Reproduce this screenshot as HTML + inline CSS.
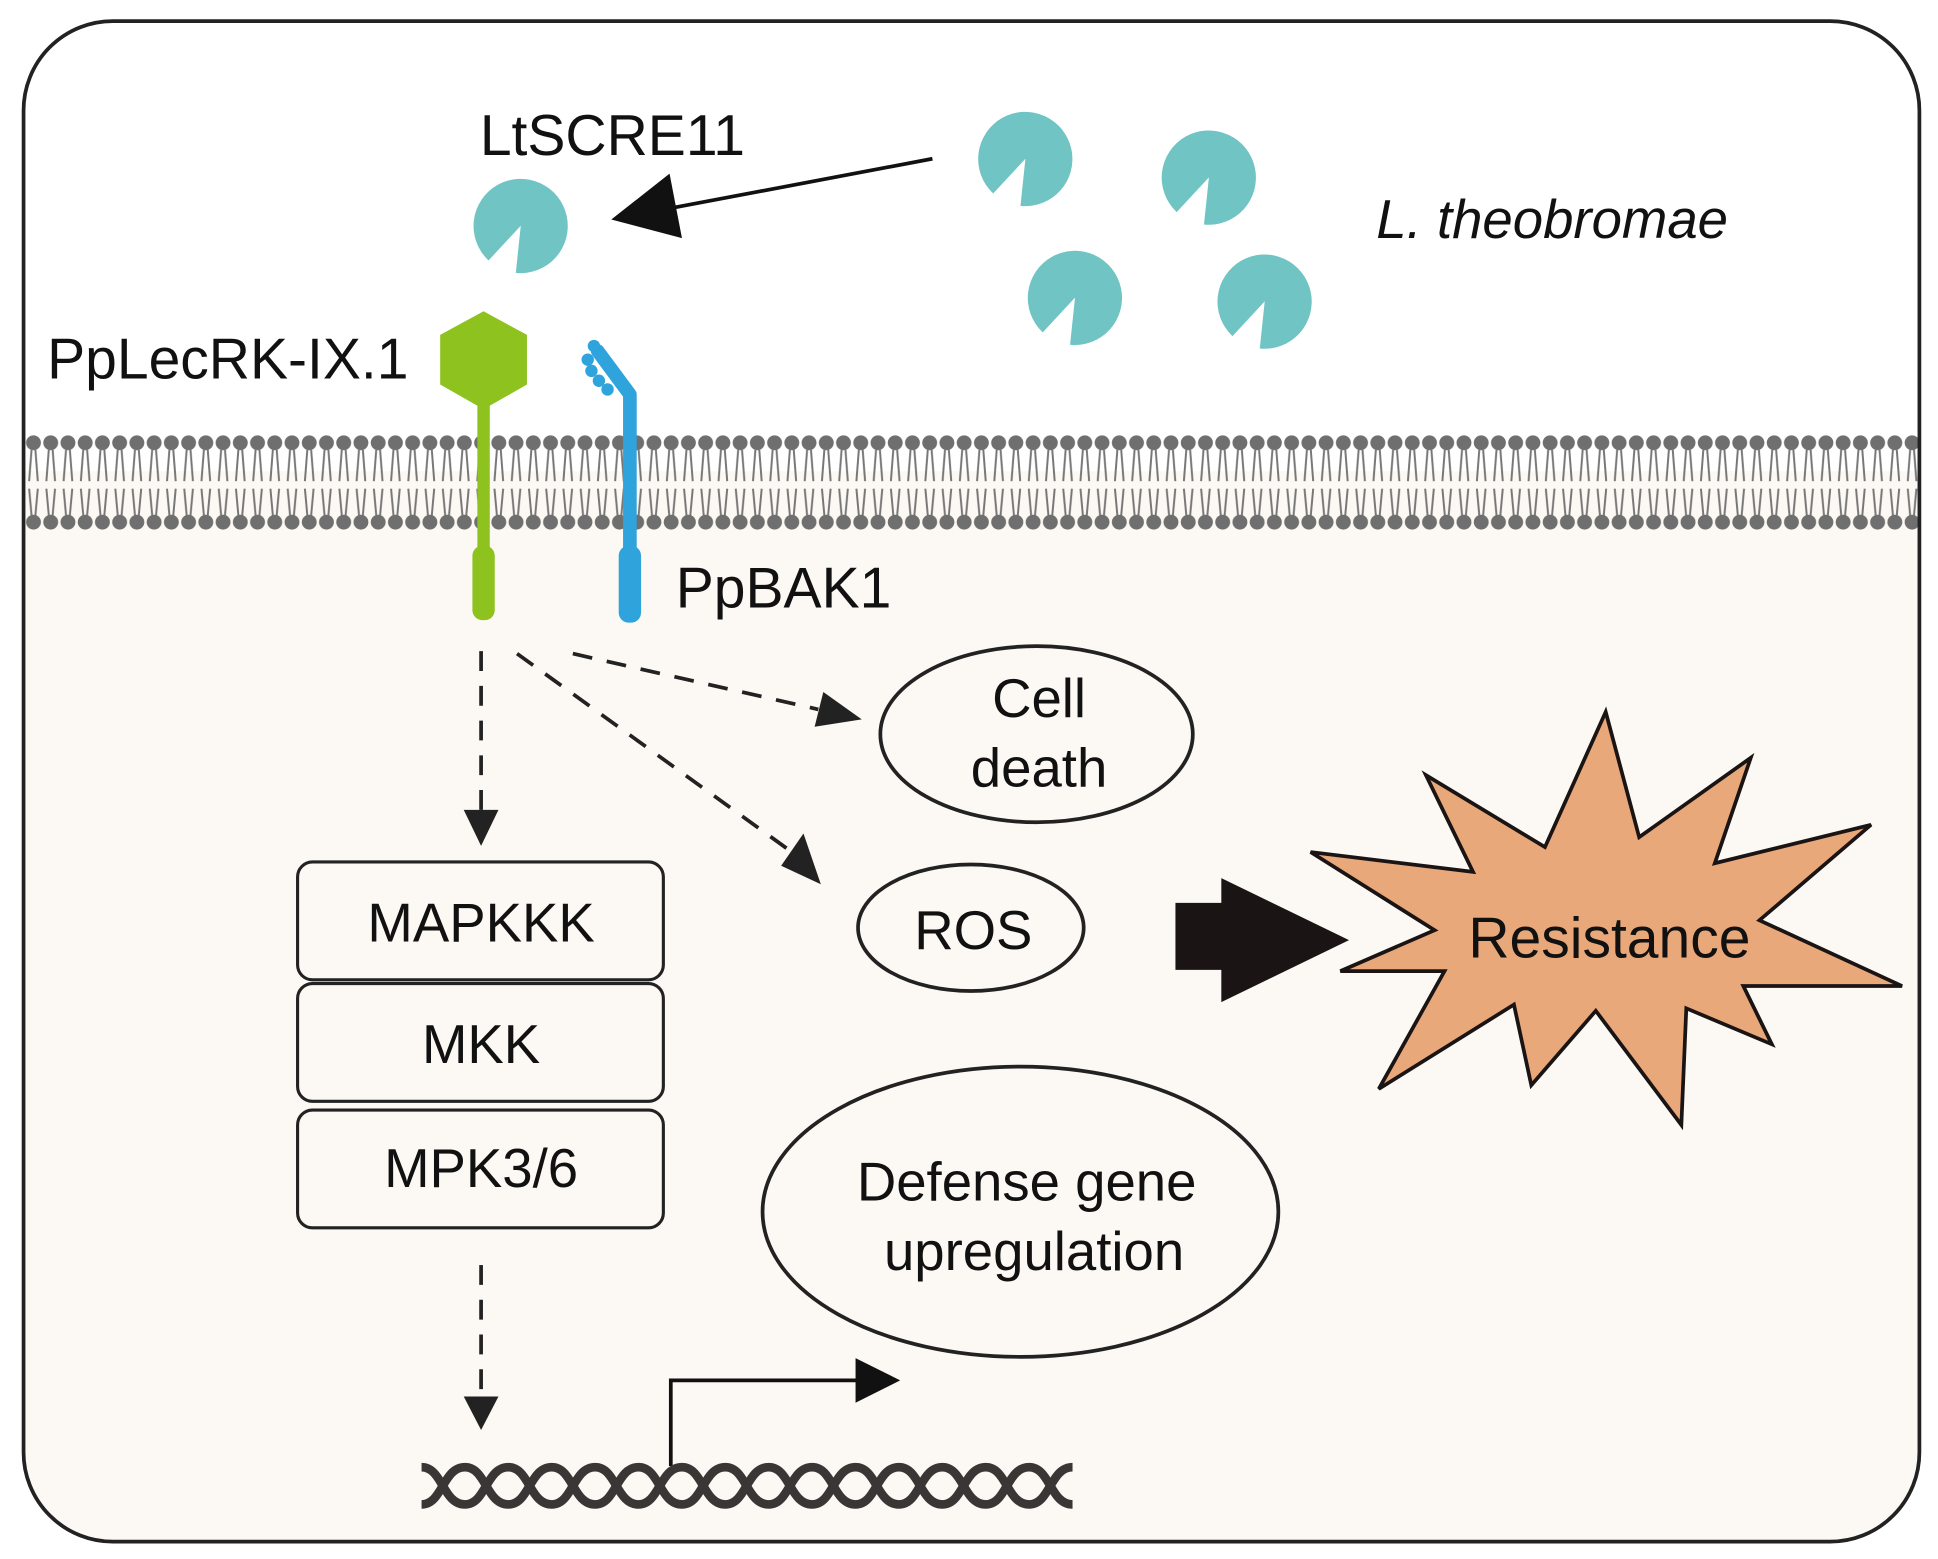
<!DOCTYPE html>
<html><head><meta charset="utf-8"><style>
html,body{margin:0;padding:0;background:#fff;}
svg{display:block;}
text{font-family:"Liberation Sans",Arial,sans-serif;fill:#111;}
</style></head><body>
<svg width="1938" height="1559" viewBox="0 0 1563 1257" preserveAspectRatio="none" xmlns="http://www.w3.org/2000/svg">
<defs>
<clipPath id="cell"><rect x="19" y="17" width="1529" height="1226" rx="72"/></clipPath>
<pattern id="mem" x="20" y="0" width="13.9" height="1257" patternUnits="userSpaceOnUse">
<circle cx="7" cy="357" r="6" fill="#6f6f6f"/>
<path d="M5.5 362 L3.5 388 M8.5 362 L10.5 388" stroke="#777" stroke-width="1.6" fill="none"/>
<path d="M3.5 394 L5.5 416 M10.5 394 L8.5 416" stroke="#777" stroke-width="1.6" fill="none"/>
<circle cx="7" cy="421" r="6" fill="#6f6f6f"/>
</pattern>
<g id="pac"><path d="M0 0 L-4 38 A38 38 0 1 0 -26 28 Z" fill="#70c4c4"/></g>
</defs>
<g clip-path="url(#cell)">
<rect x="0" y="0" width="1563" height="1257" fill="#fff"/>
<rect x="0" y="380" width="1563" height="900" fill="#fcf8f3"/>
<rect x="14" y="348" width="1540" height="82" fill="url(#mem)"/>
</g>
<rect x="19" y="17" width="1529" height="1226" rx="72" fill="none" stroke="#222" stroke-width="3"/>

<!-- effectors -->
<use href="#pac" x="420" y="182"/>
<use href="#pac" x="827" y="128"/>
<use href="#pac" x="975" y="143"/>
<use href="#pac" x="867" y="240"/>
<use href="#pac" x="1020" y="243"/>
<line x1="752" y1="128" x2="535" y2="169" stroke="#111" stroke-width="3"/>
<polygon points="493,177 540,140 550,192" fill="#111"/>

<text x="387" y="125" font-size="46">LtSCRE11</text>
<text x="1110" y="192" font-size="44" font-style="italic">L. theobromae</text>
<text x="38" y="305" font-size="46">PpLecRK-IX.1</text>
<text x="545" y="490" font-size="46">PpBAK1</text>

<!-- receptors -->
<polygon points="390,251 425,270 425,310 390,330 355,310 355,270" fill="#8dc21f"/>
<rect x="385" y="325" width="10" height="120" fill="#8dc21f"/>
<rect x="381" y="440" width="18" height="60" rx="8" fill="#8dc21f"/>
<path d="M508 445 L508 318 L482 283" stroke="#2ea3dc" stroke-width="11" fill="none" stroke-linecap="round" stroke-linejoin="round"/>
<g fill="#2ea3dc"><circle cx="474" cy="290" r="5"/><circle cx="477" cy="299" r="5"/><circle cx="483" cy="307" r="5"/><circle cx="490" cy="314" r="5"/><circle cx="479" cy="279" r="5"/></g>
<rect x="499" y="440" width="18" height="62" rx="8" fill="#2ea3dc"/>

<!-- dashed arrows -->
<g stroke="#222" stroke-width="3" stroke-dasharray="16,12" fill="none">
<line x1="388" y1="525" x2="388" y2="655"/>
<line x1="417" y1="527" x2="640" y2="688"/>
<line x1="462" y1="527" x2="660" y2="572"/>
<line x1="388" y1="1020" x2="388" y2="1125"/>
</g>
<polygon points="374,653 402,653 388,682" fill="#222"/>
<polygon points="630,698 648,672 662,713" fill="#222"/>
<polygon points="657,586 664,558 695,580" fill="#222"/>
<polygon points="374,1126 402,1126 388,1153" fill="#222"/>

<!-- ellipses -->
<g fill="none" stroke="#222" stroke-width="3">
<ellipse cx="836" cy="592" rx="126" ry="71"/>
<ellipse cx="783" cy="748" rx="91" ry="51"/>
<ellipse cx="823" cy="977" rx="208" ry="117"/>
</g>
<text x="838" y="578" font-size="44" text-anchor="middle">Cell</text>
<text x="838" y="634" font-size="44" text-anchor="middle">death</text>
<text x="785" y="765" font-size="44" text-anchor="middle">ROS</text>
<text x="828" y="968" font-size="44" text-anchor="middle">Defense gene</text>
<text x="834" y="1024" font-size="44" text-anchor="middle">upregulation</text>

<!-- MAPK boxes -->
<g fill="none" stroke="#222" stroke-width="2.5">
<rect x="240" y="695" width="295" height="95" rx="12"/>
<rect x="240" y="793" width="295" height="95" rx="12"/>
<rect x="240" y="895" width="295" height="95" rx="12"/>
</g>
<text x="388" y="759" font-size="44" text-anchor="middle">MAPKKK</text>
<text x="388" y="857" font-size="44" text-anchor="middle">MKK</text>
<text x="388" y="957" font-size="44" text-anchor="middle">MPK3/6</text>

<!-- block arrow -->
<polygon points="948,728 985,728 985,708 1088,758 985,808 985,782 948,782" fill="#1a1414"/>

<!-- star -->
<polygon points="1295,574 1322,675 1412,611 1383,696 1509,665 1419,742 1534,795 1406,795 1429,842 1360,813 1356,907 1287,815 1235,875 1221,810 1112,878 1165,783 1081,783 1157,750 1057,687 1188,703 1150,625 1246,683" fill="#e9a87a" stroke="#1a1414" stroke-width="3" stroke-linejoin="miter"/>
<text x="1298" y="772" font-size="46" text-anchor="middle">Resistance</text>

<!-- promoter arrow -->
<path d="M541 1182 L541 1113 L692 1113" stroke="#111" stroke-width="3" fill="none"/>
<polygon points="690,1095 726,1113 690,1131" fill="#111"/>

<!-- DNA -->
<g stroke="#3a3635" stroke-width="7" fill="none">
<path d="M340 1183 C357 1183,357 1213,375 1213 C392 1213,392 1183,410 1183 C427 1183,427 1213,445 1213 C462 1213,462 1183,480 1183 C497 1183,497 1213,515 1213 C532 1213,532 1183,550 1183 C567 1183,567 1213,585 1213 C602 1213,602 1183,620 1183 C637 1183,637 1213,655 1213 C672 1213,672 1183,690 1183 C707 1183,707 1213,725 1213 C742 1213,742 1183,760 1183 C777 1183,777 1213,795 1213 C812 1213,812 1183,830 1183 C847 1183,847 1213,865 1213"/>
<path d="M340 1213 C357 1213,357 1183,375 1183 C392 1183,392 1213,410 1213 C427 1213,427 1183,445 1183 C462 1183,462 1213,480 1213 C497 1213,497 1183,515 1183 C532 1183,532 1213,550 1213 C567 1213,567 1183,585 1183 C602 1183,602 1213,620 1213 C637 1213,637 1183,655 1183 C672 1183,672 1213,690 1213 C707 1213,707 1183,725 1183 C742 1183,742 1213,760 1213 C777 1213,777 1183,795 1183 C812 1183,812 1213,830 1213 C847 1213,847 1183,865 1183"/>
</g>
</svg>
</body></html>
